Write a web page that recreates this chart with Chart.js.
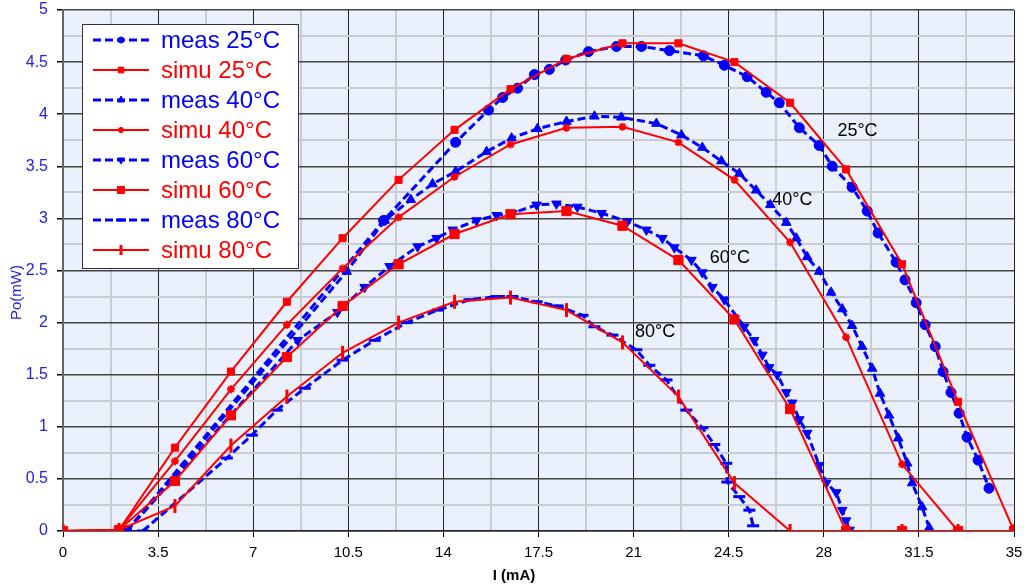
<!DOCTYPE html>
<html>
<head>
<meta charset="utf-8">
<script src="https://cdn.jsdelivr.net/npm/chart.js@4.4.0/dist/chart.umd.min.js"></script>
<style>
  html, body { margin: 0; padding: 0; background: #fff; }
  canvas { display: block; }
</style>
</head>
<body>
<canvas id="chart" width="1024" height="585"></canvas>
<script>
// simulation: one current grid for all temperatures
const simuI  = [0, 2.06, 4.12, 6.18, 8.24, 10.29, 12.35, 14.41, 16.47, 18.53, 20.59, 22.65, 24.71, 26.76, 28.82, 30.88, 32.94, 35];
const simu25 = [0, 0.01, 0.80, 1.53, 2.20, 2.81, 3.37, 3.85, 4.24, 4.53, 4.68, 4.68, 4.50, 4.11, 3.47, 2.56, 1.24, 0];
const simu40 = [0, 0.01, 0.67, 1.36, 1.98, 2.52, 3.01, 3.40, 3.71, 3.87, 3.88, 3.73, 3.37, 2.77, 1.86, 0.64, 0, 0];
const simu60 = [0, 0.01, 0.48, 1.11, 1.67, 2.16, 2.56, 2.85, 3.04, 3.07, 2.93, 2.60, 2.03, 1.17, 0, 0, 0, 0];
const simu80 = [0, 0.01, 0.24, 0.82, 1.29, 1.71, 2.00, 2.20, 2.24, 2.12, 1.81, 1.29, 0.46, 0, 0, 0, 0, 0];

// measurements
const meas25I = [2.35, 11.8, 14.45, 15.66, 16.18, 16.73, 17.35, 17.9, 18.5, 19.34, 20.37, 21.29, 22.32, 23.57, 24.34, 25.18, 25.88, 26.36, 27.1, 27.83, 28.31, 29.04, 29.6, 30.0, 30.66, 30.99, 31.4, 31.73, 32.1, 32.39, 32.68, 32.98, 33.27, 33.68, 34.08];
const meas25P = [0, 2.98, 3.73, 4.04, 4.16, 4.25, 4.38, 4.43, 4.52, 4.60, 4.65, 4.65, 4.61, 4.56, 4.47, 4.36, 4.21, 4.11, 3.87, 3.70, 3.50, 3.30, 3.07, 2.86, 2.58, 2.41, 2.19, 1.98, 1.77, 1.53, 1.33, 1.13, 0.90, 0.68, 0.41];

const meas40I = [2.35, 10.44, 11.84, 12.8, 13.6, 14.45, 15.59, 16.51, 17.46, 18.53, 19.56, 20.55, 21.84, 22.76, 23.53, 24.23, 24.89, 25.51, 26.03, 26.62, 26.99, 27.39, 27.83, 28.27, 28.68, 29.04, 29.41, 29.78, 30.07, 30.4, 30.74, 31.07, 31.25, 31.62, 31.88];
const meas40P = [0, 2.49, 2.98, 3.18, 3.33, 3.45, 3.64, 3.77, 3.86, 3.93, 3.98, 3.97, 3.91, 3.80, 3.68, 3.55, 3.43, 3.27, 3.13, 2.96, 2.81, 2.63, 2.49, 2.29, 2.13, 1.97, 1.77, 1.56, 1.32, 1.11, 0.89, 0.65, 0.46, 0.23, 0.03];

const meas60I = [2.35, 8.64, 10.1, 11.1, 12.02, 13.05, 13.75, 14.34, 15.22, 15.96, 16.54, 17.43, 18.16, 18.93, 19.82, 20.77, 21.47, 22.06, 22.5, 23.13, 23.53, 23.9, 24.34, 25.07, 25.44, 25.74, 25.99, 26.29, 26.62, 26.84, 27.1, 27.39, 27.83, 28.09, 28.46, 28.68, 28.82, 28.95];
const meas60P = [0, 1.83, 2.10, 2.34, 2.54, 2.73, 2.81, 2.89, 2.98, 3.03, 3.05, 3.13, 3.14, 3.11, 3.05, 2.97, 2.89, 2.81, 2.72, 2.60, 2.48, 2.34, 2.22, 1.96, 1.83, 1.69, 1.57, 1.50, 1.33, 1.23, 1.07, 0.94, 0.63, 0.46, 0.37, 0.20, 0.10, 0.01];

const meas80I = [2.94, 6.03, 6.95, 7.87, 8.9, 10.29, 11.47, 12.65, 13.79, 14.96, 15.96, 16.54, 17.43, 18.2, 19.12, 19.56, 20.22, 21.1, 21.58, 22.21, 22.94, 23.53, 23.97, 24.41, 24.45, 24.89, 25.26, 25.4];
const meas80P = [0, 0.70, 0.92, 1.16, 1.37, 1.64, 1.83, 2.00, 2.12, 2.22, 2.25, 2.25, 2.20, 2.16, 2.07, 1.96, 1.88, 1.74, 1.59, 1.45, 1.16, 0.99, 0.83, 0.65, 0.47, 0.33, 0.20, 0.05];

// curve labels inside the plot
const tempLabels = ['25°C', '40°C', '60°C', '80°C'];
const tempLabelI = [28.5, 26.1, 23.8, 21.05];
const tempLabelP = [3.84, 3.18, 2.62, 1.91];

const BLUE = '#0000ff';
const RED = '#ff0000';

function pts(xs, ys) {
  return xs.map((x, i) => ({ x: x, y: ys[i] }));
}

function measSet(label, xs, ys, style, r, rot, bw) {
  return {
    label: label, data: pts(xs, ys), showLine: true,
    borderColor: BLUE, backgroundColor: BLUE, borderWidth: 3, borderDash: [8, 4],
    pointStyle: style, pointRadius: r, pointRotation: rot, pointBorderWidth: bw,
    pointBorderColor: BLUE, pointBackgroundColor: BLUE, order: 2
  };
}

function simuSet(label, ys, style, r, rot, bw) {
  return {
    label: label, data: pts(simuI, ys), showLine: true,
    borderColor: RED, backgroundColor: RED, borderWidth: 2,
    pointStyle: style, pointRadius: r, pointRotation: rot, pointBorderWidth: bw,
    pointBorderColor: RED, pointBackgroundColor: RED, order: 1
  };
}

const datasets = [
  measSet('meas 25°C', meas25I, meas25P, 'circle', 5, 0, 1),
  simuSet('simu 25°C', simu25, 'rect', 5, 0, 1),
  measSet('meas 40°C', meas40I, meas40P, 'triangle', 5.5, 0, 1),
  simuSet('simu 40°C', simu40, 'star', 4, 0, 2),
  measSet('meas 60°C', meas60I, meas60P, 'triangle', 5.5, 180, 1),
  simuSet('simu 60°C', simu60, 'rect', 6.5, 0, 1),
  measSet('meas 80°C', meas80I, meas80P, 'line', 6, 0, 3),
  simuSet('simu 80°C', simu80, 'line', 7, 90, 3)
];
const legendRadius = [3, 4, 4, 3, 4, 5, 5, 5];

function isMajor(v, step) {
  const q = v / step;
  return Math.abs(q - Math.round(q)) < 1e-6;
}

function fmt(v) {
  return String(Math.round(v * 100) / 100);
}

const bgPlugin = {
  id: 'bg',
  beforeDraw(chart) {
    const { ctx, chartArea: a } = chart;
    ctx.save();
    ctx.fillStyle = '#eaf0fc';
    ctx.fillRect(a.left, a.top, a.right - a.left, a.bottom - a.top);
    ctx.restore();
  }
};

// axis titles are centred on the whole picture, not on the plot box
const axisTitlePlugin = {
  id: 'axisTitles',
  afterDraw(chart) {
    const { ctx } = chart;
    ctx.save();
    ctx.textAlign = 'center';
    ctx.textBaseline = 'middle';
    ctx.fillStyle = '#000';
    ctx.font = 'bold 15px Arial, "Liberation Sans", sans-serif';
    ctx.fillText('I (mA)', chart.width / 2 + 2, 576);
    ctx.translate(17, chart.height / 2);
    ctx.rotate(-Math.PI / 2);
    ctx.fillStyle = '#2222dd';
    ctx.font = '15px Arial, "Liberation Sans", sans-serif';
    ctx.fillText('Po(mW)', 0, 0);
    ctx.restore();
  }
};

const labelPlugin = {
  id: 'tempLabels',
  afterDatasetsDraw(chart) {
    const { ctx, scales } = chart;
    ctx.save();
    ctx.fillStyle = '#000';
    ctx.font = '18px Arial, "Liberation Sans", sans-serif';
    ctx.textAlign = 'left';
    ctx.textBaseline = 'middle';
    tempLabels.forEach((t, i) => {
      ctx.fillText(t, scales.x.getPixelForValue(tempLabelI[i]), scales.y.getPixelForValue(tempLabelP[i]));
    });
    ctx.restore();
  }
};

const legendPlugin = {
  id: 'boxLegend',
  afterDraw(chart) {
    const { ctx, chartArea: a } = chart;
    const x0 = a.left + 19, y0 = a.top + 14, w = 216, h = 244;
    ctx.save();
    ctx.fillStyle = '#fff';
    ctx.fillRect(x0, y0, w, h);
    ctx.strokeStyle = '#333';
    ctx.lineWidth = 1;
    ctx.strokeRect(x0 + 0.5, y0 + 0.5, w, h);
    ctx.font = '24px Arial, "Liberation Sans", sans-serif';
    ctx.textBaseline = 'middle';
    chart.data.datasets.forEach((ds, i) => {
      const y = y0 + 16 + i * 30;
      ctx.save();
      ctx.strokeStyle = ds.borderColor;
      ctx.lineWidth = ds.borderWidth;
      ctx.setLineDash(ds.borderDash || []);
      ctx.beginPath();
      ctx.moveTo(x0 + 11, y);
      ctx.lineTo(x0 + 67, y);
      ctx.stroke();
      ctx.restore();
      ctx.save();
      ctx.fillStyle = ds.pointBackgroundColor;
      ctx.strokeStyle = ds.pointBorderColor;
      ctx.lineWidth = ds.pointBorderWidth;
      Chart.helpers.drawPoint(ctx, {
        pointStyle: ds.pointStyle, rotation: ds.pointRotation,
        radius: legendRadius[i], borderWidth: ds.pointBorderWidth
      }, x0 + 39, y);
      ctx.restore();
      ctx.fillStyle = ds.borderColor;
      ctx.fillText(ds.label, x0 + 79, y + 1);
    });
    ctx.restore();
  }
};

Chart.defaults.font.family = 'Arial, "Liberation Sans", sans-serif';

const config = {
  type: 'scatter',
  data: { datasets: datasets },
  options: {
    responsive: false,
    animation: false,
    layout: { padding: { top: 10, right: 8, left: 0, bottom: 0 } },
    plugins: {
      legend: { display: false },
      tooltip: { enabled: false }
    },
    elements: { line: { tension: 0 } },
    scales: {
      x: {
        type: 'linear',
        min: 0, max: 35,
        afterFit(s) { s.height = 54; s.paddingLeft = 0; s.paddingRight = 0; },
        ticks: {
          stepSize: 1.75, autoSkip: false, maxRotation: 0, color: '#000',
          font: { size: 15 }, padding: 7,
          callback: v => isMajor(v, 3.5) ? fmt(v) : ''
        },
        grid: {
          color: c => isMajor(c.tick.value, 3.5) ? '#222' : '#c8ccd3',
          lineWidth: c => isMajor(c.tick.value, 3.5) ? 1 : 2,
          tickLength: 6,
          tickColor: c => isMajor(c.tick.value, 3.5) ? '#000' : 'rgba(0,0,0,0)'
        },
        border: { color: '#222', width: 1.5 }
      },
      y: {
        min: 0, max: 5,
        afterFit(s) { s.width = 63; s.paddingTop = 0; s.paddingBottom = 0; },
        ticks: {
          stepSize: 0.25, autoSkip: false, color: '#2222dd',
          font: { size: 16 }, padding: 9,
          callback: v => isMajor(v, 0.5) ? fmt(v) : ''
        },
        grid: {
          color: c => isMajor(c.tick.value, 0.5) ? '#444' : '#c8ccd3',
          lineWidth: c => isMajor(c.tick.value, 0.5) ? 1.5 : 2,
          tickLength: 6,
          tickColor: c => isMajor(c.tick.value, 0.5) ? '#000' : 'rgba(0,0,0,0)'
        },
        border: { color: '#666', width: 2 }
      }
    }
  },
  plugins: [bgPlugin, labelPlugin, legendPlugin, axisTitlePlugin]
};

new Chart(document.getElementById('chart'), config);
</script>
</body>
</html>
